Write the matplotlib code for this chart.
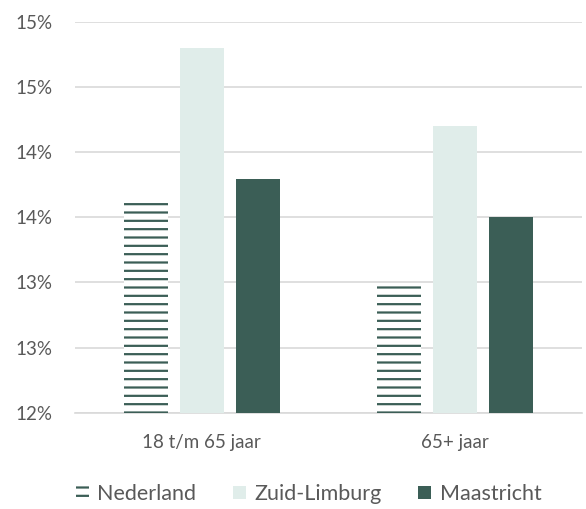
import matplotlib
matplotlib.use("Agg")
import matplotlib.pyplot as plt
import numpy as np
from matplotlib.patches import Patch

categories = ["18 t/m 65 jaar", "65+ jaar"]
series_names = ["Nederland", "Zuid-Limburg", "Maastricht"]
nederland = [13.65, 12.98]
zuid_limburg = [14.80, 14.20]
maastricht = [13.79, 13.50]
yticks = [12.0, 12.5, 13.0, 13.5, 14.0, 14.5, 15.0]
ytick_labels = ["12%", "13%", "13%", "14%", "14%", "15%", "15%"]

dark = "#3B5E56"
light = "#E0EDEA"
txt = "#595959"
grid = "#D9D9D9"

plt.rcParams['font.family'] = ['Lato', 'DejaVu Sans']
plt.rcParams['hatch.linewidth'] = 1.6

fig = plt.figure(figsize=(5.86, 5.09), dpi=100)
ax = fig.add_axes([75/586, 1-412.7/509, 507/586, (412.7-21.7)/509])

x = np.arange(len(categories))
w = 0.1736
step = 0.2209
ax.bar(x - step, nederland, w, color="white", edgecolor=dark, linewidth=0, hatch="--", zorder=3)
ax.bar(x, zuid_limburg, w, color=light, edgecolor="none", zorder=3)
ax.bar(x + step, maastricht, w, color=dark, edgecolor="none", zorder=3)

ax.set_xlim(-0.5, 1.5)
ax.set_ylim(12, 15)
ax.set_yticks(yticks)
ax.set_yticklabels(ytick_labels)
ax.set_xticks(x)
ax.set_xticklabels(categories)
ax.yaxis.grid(True, color=grid, linewidth=1.2, zorder=0)
ax.set_axisbelow(True)
for s in ["top", "right", "left"]:
    ax.spines[s].set_visible(False)
ax.spines["bottom"].set_color(grid)
ax.spines["bottom"].set_linewidth(1.2)
ax.tick_params(axis="both", length=0, colors=txt, labelsize=13.5)
ax.tick_params(axis="y", pad=16)
ax.tick_params(axis="x", pad=15)

handles = [Patch(facecolor="white", edgecolor=dark, linewidth=0, hatch="--"),
           Patch(facecolor=light, edgecolor="none"),
           Patch(facecolor=dark, edgecolor="none")]
leg = fig.legend(handles, series_names, loc="center", bbox_to_anchor=(0.527, 1-494/509),
                 ncol=3, frameon=False, fontsize=15.5, handlelength=0.6, handleheight=0.6,
                 handletextpad=0.4, columnspacing=1.7)
for t in leg.get_texts():
    t.set_color(txt)

fig.savefig("out.png", dpi=100)
